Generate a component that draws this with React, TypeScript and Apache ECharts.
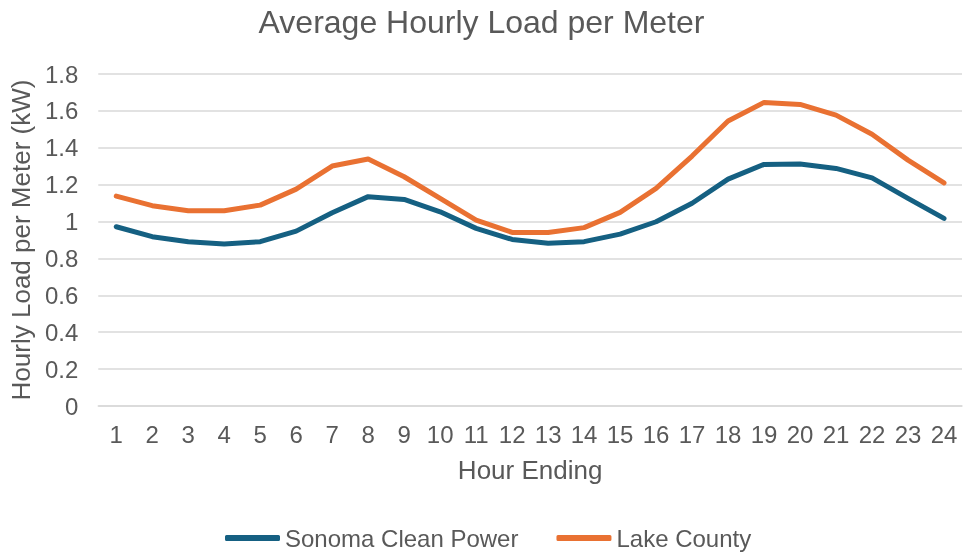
import React, { useEffect, useRef } from "react";
import * as echarts from "echarts";

const hours = ["1","2","3","4","5","6","7","8","9","10","11","12","13","14","15","16","17","18","19","20","21","22","23","24"];
const sonoma = [0.972,0.918,0.891,0.878,0.891,0.948,1.048,1.135,1.120,1.053,0.963,0.903,0.882,0.891,0.932,0.999,1.099,1.230,1.310,1.312,1.288,1.237,1.126,1.017];
const lake = [1.138,1.086,1.059,1.059,1.089,1.176,1.301,1.339,1.243,1.126,1.008,0.941,0.941,0.967,1.050,1.180,1.355,1.545,1.646,1.635,1.577,1.473,1.333,1.210];

const FONT = "'Liberation Sans', Arial, sans-serif";
const GRAY = "#595959";

export default function App() {
  const ref = useRef<HTMLDivElement>(null);
  useEffect(() => {
    if (!ref.current) return;
    const chart = echarts.init(ref.current, undefined, { renderer: "svg" });
    chart.setOption({
      animation: false,
      textStyle: { fontFamily: FONT },
      title: {
        text: "Average Hourly Load per Meter",
        left: "center",
        top: 1,
        textStyle: { fontFamily: FONT, fontSize: 32, fontWeight: "normal", color: GRAY },
      },
      legend: {
        top: 521,
        left: 220,
        itemWidth: 55,
        itemHeight: 6,
        itemGap: 38,
        icon: "roundRect",
        textStyle: { fontFamily: FONT, fontSize: 24, color: GRAY },
        data: ["Sonoma Clean Power", "Lake County"],
      },
      grid: { left: 98, right: 1, top: 74, bottom: 148, containLabel: false },
      xAxis: {
        type: "category",
        data: hours,
        boundaryGap: true,
        name: "Hour Ending",
        nameLocation: "middle",
        nameGap: 51,
        nameTextStyle: { fontFamily: FONT, fontSize: 26, color: GRAY },
        axisLine: { show: true, lineStyle: { color: "#d9d9d9", width: 1.5 } },
        axisTick: { show: false },
        axisLabel: { fontFamily: FONT, fontSize: 24, color: GRAY, margin: 16 },
      },
      yAxis: {
        type: "value",
        min: 0,
        max: 1.8,
        interval: 0.2,
        name: "Hourly Load per Meter (kW)",
        nameLocation: "middle",
        nameGap: 63,
        nameTextStyle: { fontFamily: FONT, fontSize: 26, color: GRAY },
        axisLine: { show: false },
        axisTick: { show: false },
        axisLabel: {
          fontFamily: FONT,
          fontSize: 24,
          color: GRAY,
          margin: 20,
          formatter: (v: number) => String(parseFloat(v.toFixed(1))),
        },
        splitLine: { lineStyle: { color: "#d9d9d9", width: 1.5 } },
      },
      series: [
        {
          name: "Sonoma Clean Power",
          type: "line",
          data: sonoma,
          symbol: "none",
          itemStyle: { color: "#156082" },
          lineStyle: { color: "#156082", width: 5, cap: "round", join: "round" },
        },
        {
          name: "Lake County",
          type: "line",
          data: lake,
          symbol: "none",
          itemStyle: { color: "#E97132" },
          lineStyle: { color: "#E97132", width: 5, cap: "round", join: "round" },
        },
      ],
    });
    return () => chart.dispose();
  }, []);
  return (
    <div
      ref={ref}
      style={{ position: "fixed", left: 0, top: 0, width: 963, height: 554 }}
    />
  );
}
